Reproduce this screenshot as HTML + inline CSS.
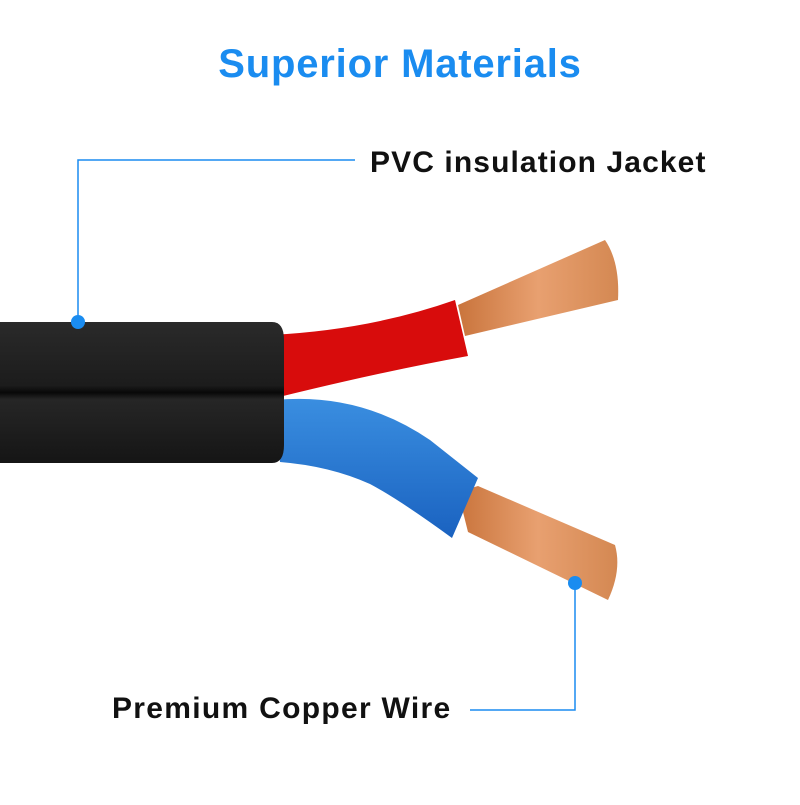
<!DOCTYPE html>
<html><head><style>
body{margin:0;width:800px;height:800px;background:#fff;overflow:hidden;font-family:"Liberation Sans",sans-serif}
</style></head><body>
<svg width="800" height="800" viewBox="0 0 800 800" xmlns="http://www.w3.org/2000/svg">
<defs>
<linearGradient id="cu" x1="0" y1="0" x2="1" y2="0">
<stop offset="0" stop-color="#c9743c"/><stop offset="0.5" stop-color="#e8a070"/><stop offset="1" stop-color="#d48852"/>
</linearGradient>
<linearGradient id="jk" x1="0" y1="0" x2="0" y2="1">
<stop offset="0" stop-color="#2a2a2a"/><stop offset="0.45" stop-color="#1c1c1c"/><stop offset="0.5" stop-color="#080808"/><stop offset="0.55" stop-color="#262626"/><stop offset="1" stop-color="#151515"/>
</linearGradient>
<linearGradient id="bl" x1="0" y1="0" x2="0" y2="1">
<stop offset="0" stop-color="#3a8ee0"/><stop offset="1" stop-color="#1a62c0"/>
</linearGradient>
</defs>
<text x="400" y="77" text-anchor="middle" font-family="Liberation Sans" font-weight="bold" font-size="40" letter-spacing="0.8" fill="#1a8cf0">Superior Materials</text>
<text x="370" y="172" font-family="Liberation Sans" font-weight="bold" font-size="30" letter-spacing="1.1" fill="#111">PVC insulation Jacket</text>
<text x="112" y="718" font-family="Liberation Sans" font-weight="bold" font-size="30" letter-spacing="1.3" fill="#111">Premium Copper Wire</text>
<path d="M458 305 L605 240 Q620 262 618 300 L465 336 Z" fill="url(#cu)"/>
<path d="M458 492 L468 532 L608 600 Q622 570 615 545 L478 486 Z" fill="url(#cu)"/>
<path d="M270 335 Q370 330 455 300 L468 356 Q380 372 275 398 Z" fill="#d80c0c"/>
<path d="M275 400 Q360 392 430 440 L478 478 L452 538 Q400 500 370 484 Q330 466 280 462 Z" fill="url(#bl)"/>
<path d="M0 322 L272 322 Q284 322 284 340 L284 445 Q284 463 272 463 L0 463 Z" fill="url(#jk)"/>
<g stroke="#1a8cf0" stroke-width="1.5" fill="none">
<path d="M78 322 V160 H355"/>
<path d="M575 583 V710 H470"/>
</g>
<circle cx="78" cy="322" r="7" fill="#1a8cf0"/>
<circle cx="575" cy="583" r="7" fill="#1a8cf0"/>
</svg>
</body></html>
